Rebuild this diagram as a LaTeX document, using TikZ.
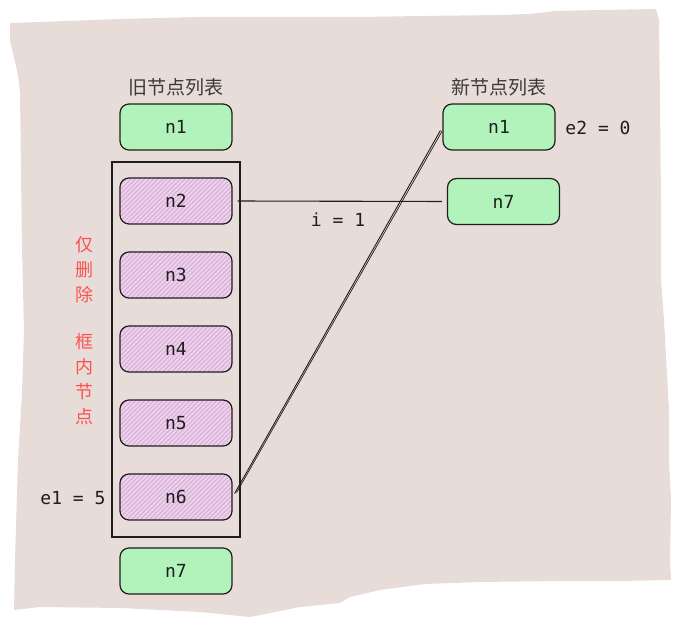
\documentclass[tikz,border=0pt]{standalone}
\usepackage{fontspec}
\setmainfont{DejaVu Sans}
\newfontfamily\cjk{Noto Sans CJK SC}
\newfontfamily\monof{DejaVu Sans Mono}
\definecolor{paper}{HTML}{E8DCD8}
\definecolor{boxgreen}{HTML}{B2F2BB}
\definecolor{hatchpink}{HTML}{E0A0EA}
\definecolor{pinkbg}{HTML}{E8D6E2}
\definecolor{ink}{HTML}{1E1E1E}
\definecolor{redtxt}{HTML}{FA5252}
\definecolor{headtxt}{HTML}{3A3A3A}
\tikzset{
  nodebox/.style={draw=ink, line width=1.2pt, rounded corners=9pt, minimum width=112pt, minimum height=46pt, inner sep=0pt, font=\monof\fontsize{18}{20}\selectfont, text=ink},
  greenbox/.style={nodebox, fill=boxgreen},
  pinkbox/.style={nodebox, fill=pinkbg, path picture={
      \foreach \k in {-52,-47.5,...,116} {
        \draw[hatchpink, line width=0.9pt] ([xshift=\k pt]path picture bounding box.south west) -- ++(52,-52);
      }}},
  monolabel/.style={font=\monof\fontsize{18}{20}\selectfont, text=ink, inner sep=0pt},
  headlabel/.style={font=\cjk\fontsize{19}{22}\selectfont, text=headtxt, inner sep=0pt},
  redlabel/.style={font=\cjk\fontsize{18}{20}\selectfont, text=redtxt, inner sep=0pt},
  link/.style={draw=ink, line width=1.1pt},
}
\begin{document}
\begin{tikzpicture}[x=1pt,y=-1pt]
\useasboundingbox (0,0) rectangle (681,628);
% torn paper background
\fill[paper] (10,23) -- (40,22) -- (120,19) -- (200,17) -- (300,17) -- (360,17) -- (420,16) -- (500,15) -- (530,14) -- (555,11) -- (600,10) -- (656,9) -- (659,20) -- (660,100) -- (661,200) -- (661,280) -- (664,320) -- (669,410) -- (669,460) -- (671,500) -- (670,560) -- (671,580) -- (620,581) -- (560,581) -- (480,582) -- (425,584) -- (380,590) -- (350,597) -- (340,603) -- (300,607) -- (290,609) -- (270,613) -- (250,617) -- (200,612) -- (120,608) -- (40,607) -- (14,610) -- (15,560) -- (18,460) -- (22,393) -- (24,330) -- (22,250) -- (20,93) -- (18,75) -- (10,40) -- cycle;

% headers
\node[headlabel] (hold) at (176,87) {旧节点列表};
\node[headlabel] (hnew) at (499,87) {新节点列表};

% frame around deleted nodes
\node[draw=ink, line width=1.1pt, minimum width=128pt, minimum height=375pt, inner sep=0pt] (frame) at (176,349.5) {};

% old list
\node[greenbox] (o1) at (176,127) {n1};
\node[pinkbox] (o2) at (176,201) {n2};
\node[pinkbox] (o3) at (176,275) {n3};
\node[pinkbox] (o4) at (176,349) {n4};
\node[pinkbox] (o5) at (176,423) {n5};
\node[pinkbox] (o6) at (176,497) {n6};
\node[greenbox] (o7) at (176,571) {n7};

% new list
\node[greenbox] (n1) at (499,127) {n1};
\node[greenbox] (n7) at (503.5,201.5) {n7};

% labels
\node[monolabel] (e2) at (598,128) {e2 = 0};
\node[monolabel] (e1) at (73,498) {e1 = 5};
\node[monolabel] (iv) at (338,220) {i = 1};

% red vertical note
\node[redlabel] (r1) at (84,245) {仅};
\node[redlabel] (r2) at (84,270) {删};
\node[redlabel] (r3) at (84,295) {除};
\node[redlabel] (r4) at (84,342) {框};
\node[redlabel] (r5) at (84,367) {内};
\node[redlabel] (r6) at (84,392) {节};
\node[redlabel] (r7) at (84,417) {点};

% connectors
\draw[link, shorten <=5pt, shorten >=5pt] (o2.east) -- (n7.west);
\draw[link, line width=0.9pt, shorten <=4pt, shorten >=4pt] (o6.east) -- (n1.west);
\draw[link, line width=0.7pt, shorten <=5pt, shorten >=3pt] ([xshift=1.5pt]o6.east) -- ([xshift=1.5pt,yshift=-1pt]n1.west);
\end{tikzpicture}
\end{document}
